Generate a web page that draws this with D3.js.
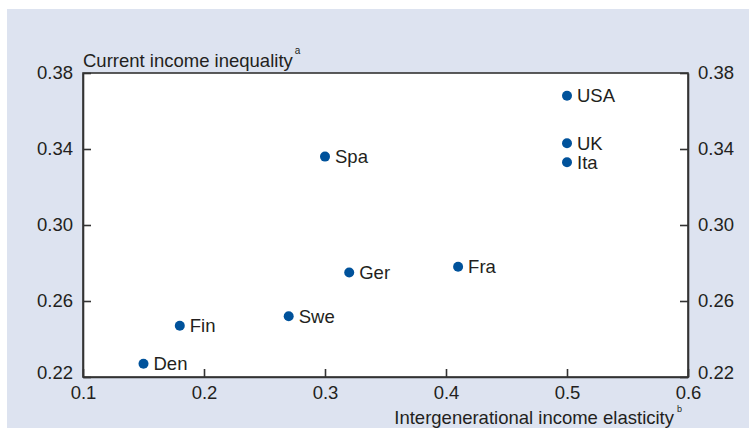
<!DOCTYPE html>
<html>
<head>
  <meta charset="utf-8">
  <title>Income inequality and intergenerational elasticity</title>
  <style>
    body { margin: 0; background: #fff; }
    text { font-family: "Liberation Sans", Arial, sans-serif; fill: #231f20; }
    .axis path, .axis line { stroke: #333; stroke-width: 1.6; }
    .axis text { font-size: 18.5px; }
  </style>
  <script src="https://cdn.jsdelivr.net/npm/d3@7"></script>
</head>
<body>
<svg id="chart" width="750" height="428"></svg>
<script>

// data
var countries = ["USA", "UK", "Ita", "Spa", "Ger", "Fra", "Swe", "Fin", "Den"];
var elasticity = [0.50, 0.50, 0.50, 0.30, 0.32, 0.41, 0.27, 0.18, 0.15];
var inequality = [0.368, 0.343, 0.333, 0.336, 0.275, 0.278, 0.252, 0.247, 0.227];
var xTicks = [0.1, 0.2, 0.3, 0.4, 0.5, 0.6];
var yTicks = [0.22, 0.26, 0.30, 0.34, 0.38];

var width = 750, height = 428;
var plot = {left: 83, right: 688, top: 73, bottom: 377};
var fontSize = "18.5px";

var svg = d3.select("#chart");

// light blue panel
svg.append("rect")
  .attr("x", 7).attr("y", 9)
  .attr("width", 742).attr("height", height - 9)
  .attr("fill", "#dde3f0");

var x = d3.scaleLinear().domain([0.1, 0.6]).range([plot.left, plot.right]);
var y = d3.scaleLinear().domain([0.22, 0.38]).range([plot.bottom, plot.top]);

// plot area
svg.append("rect")
  .attr("x", plot.left).attr("y", plot.top)
  .attr("width", plot.right - plot.left).attr("height", plot.bottom - plot.top)
  .attr("fill", "#fff")
  .attr("stroke", "#333").attr("stroke-width", 1.6);

var fmt = d3.format(".2f");

svg.append("g").attr("class", "axis")
  .attr("transform", "translate(" + plot.left + ",0)")
  .call(d3.axisLeft(y).tickValues(yTicks).tickFormat(fmt)
    .tickSizeInner(-8).tickSizeOuter(0).tickPadding(10));

svg.append("g").attr("class", "axis")
  .attr("transform", "translate(" + plot.right + ",0)")
  .call(d3.axisRight(y).tickValues(yTicks).tickFormat(fmt)
    .tickSizeInner(-8).tickSizeOuter(0).tickPadding(10));

svg.append("g").attr("class", "axis")
  .attr("transform", "translate(0," + plot.bottom + ")")
  .call(d3.axisBottom(x).tickValues(xTicks).tickFormat(d3.format(".1f"))
    .tickSizeInner(-8).tickSizeOuter(0).tickPadding(9));

svg.selectAll(".axis text").attr("fill", "#231f20");
// bottom y labels sit a little above the line
svg.selectAll(".axis .tick text").filter(function(d) { return d === 0.22; })
  .attr("dy", "0.08em");

// axis titles with footnote marks
var t1 = svg.append("text").attr("x", plot.left).attr("y", 66.5)
  .style("font-size", fontSize).text("Current income inequality");
var t1end = plot.left + t1.node().getComputedTextLength();
svg.append("text").attr("x", t1end + 2).attr("y", 54)
  .style("font-size", "10px").text("a");

var t2 = svg.append("text").attr("x", 674).attr("y", 424)
  .attr("text-anchor", "end")
  .style("font-size", fontSize).text("Intergenerational income elasticity");
svg.append("text").attr("x", 677).attr("y", 412)
  .style("font-size", "9px").text("b");

// points
var pts = svg.append("g").selectAll("g")
  .data(countries)
  .enter().append("g")
  .attr("transform", function(d, i) {
    return "translate(" + x(elasticity[i]) + "," + y(inequality[i]) + ")";
  });

pts.append("circle")
  .attr("r", 5)
  .attr("fill", "#00529b");

pts.append("text")
  .attr("x", 10)
  .attr("dy", "0.36em")
  .style("font-size", fontSize)
  .text(function(d) { return d; });

</script>
</body>
</html>
